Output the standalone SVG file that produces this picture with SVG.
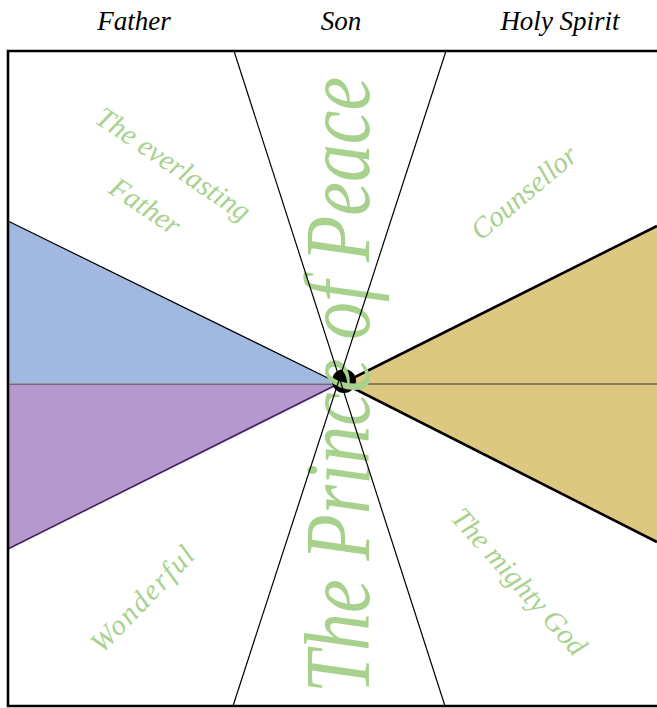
<svg xmlns="http://www.w3.org/2000/svg" width="657" height="708" viewBox="0 0 657 708">
<style>
.hdr{font-family:"Liberation Serif",serif;font-style:italic;font-size:27px;fill:#000;text-anchor:middle}
.lbl{font-family:"Liberation Serif",serif;font-style:italic;font-size:29px;fill:#a9d18e;text-anchor:middle}
.big{font-family:"Liberation Serif",serif;font-style:italic;font-size:94px;fill:#a9d18e}
.thin{stroke:#000;stroke-width:1.2;fill:none}
</style>
<rect width="657" height="708" fill="#fff"/>
<g id="headers">
<text class="hdr" x="134" y="30">Father</text>
<text class="hdr" x="341" y="30">Son</text>
<text class="hdr" x="560" y="30">Holy Spirit</text>
</g>
<g id="wedge-blue"><polygon points="8,221 338,383 8,383" fill="#a1b8e0"/><line x1="8" y1="221" x2="338" y2="383" class="thin"/></g>
<g id="wedge-purple"><polygon points="8,384 338,384 8,549" fill="#b598ce"/><line x1="8" y1="549" x2="338" y2="384" stroke="#3f2260" stroke-width="1.6"/></g>
<g id="wedge-gold"><polygon points="657,226 343,383 657,542" fill="#ddc881"/><polyline points="657,226 343,383 657,542" fill="none" stroke="#000" stroke-width="2.6"/></g>
<g id="axis"><line x1="8" y1="384" x2="657" y2="384" stroke="#333" stroke-width="1.2"/></g>
<g id="hub"><circle cx="344" cy="381" r="12" fill="#000"/></g>
<g id="title"><text class="big" transform="translate(369,693) rotate(-90)" textLength="616" lengthAdjust="spacingAndGlyphs">The Prince of Peace</text></g>
<g id="connectors">
<line x1="234" y1="51" x2="445" y2="706" class="thin"/>
<line x1="446" y1="51" x2="233" y2="706" class="thin"/>
</g>
<g id="frame" fill="none" stroke="#000" stroke-width="2.6">
<polyline points="657,51 8,51 8,706 657,706"/>
</g>
<g id="label-father"><text class="lbl" transform="translate(168,172) rotate(34)">The everlasting</text><text class="lbl" transform="translate(140,214) rotate(34)">Father</text></g>
<g id="label-counsellor"><text class="lbl" transform="translate(530,200) rotate(-40)">Counsellor</text></g>
<g id="label-wonderful"><text class="lbl" transform="translate(150,605) rotate(-46)" letter-spacing="2">Wonderful</text></g>
<g id="label-god"><text class="lbl" transform="translate(512,588) rotate(48)">The mighty God</text></g>
</svg>
